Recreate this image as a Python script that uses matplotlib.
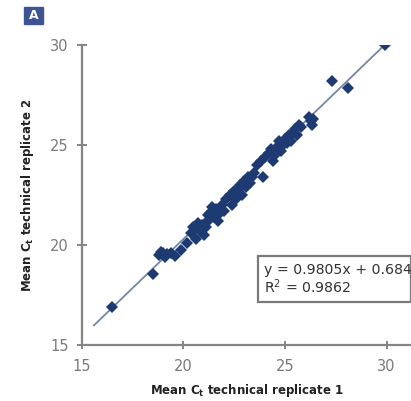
import matplotlib
matplotlib.use("Agg")
import matplotlib.pyplot as plt
from matplotlib.patches import Rectangle

# Mean Ct values of the two technical replicates
rep1 = [16.5, 18.5,
        18.8, 19.0, 19.2, 19.4, 19.6, 19.1, 18.9, 19.9, 20.2,
        20.4, 20.5, 20.6, 20.8, 20.9, 21.0, 21.2, 20.7, 21.1,
        21.3, 21.5, 21.6, 21.4, 21.8, 21.9, 21.7, 22.0, 22.1, 21.2,
        22.3, 22.4, 22.5, 22.6, 22.8, 22.7, 22.9, 23.0, 23.1, 23.2, 23.3, 23.4, 23.5,
        23.9,
        23.6, 23.8, 24.0, 24.2, 24.4, 24.3, 24.5, 24.6, 24.7, 24.8, 24.9, 25.0,
        25.1, 25.2, 25.3, 25.4, 25.5, 25.6, 25.7, 25.8,
        26.2, 26.3, 26.4, 26.35,
        27.3, 28.1, 29.9]
rep2 = [16.9, 18.55,
        19.5, 19.6, 19.55, 19.6, 19.45, 19.4, 19.65, 19.75, 20.1,
        20.6, 20.9, 20.3, 20.7, 21.0, 20.5, 21.2, 21.1, 20.9,
        21.6, 21.4, 21.8, 21.9, 21.6, 22.0, 21.2, 21.7, 22.3, 21.5,
        22.5, 22.0, 22.7, 22.3, 23.0, 22.8, 22.5, 23.2, 22.9, 23.4, 23.1, 23.4, 23.6,
        23.4,
        24.0, 24.2, 24.4, 24.6, 24.2, 24.8, 24.5, 24.9, 25.2, 24.7, 25.0, 25.3,
        25.1, 25.5, 25.2, 25.6, 25.8, 25.5, 26.0, 25.9,
        26.4, 26.2, 26.3, 26.0,
        28.2, 27.85, 30.0]

slope = 0.9805
intercept = 0.684
r_squared = 0.9862
fit_x = [15.6, 30.1]

x_ticks = [15, 20, 25, 30]
y_ticks = [15, 20, 25, 30]

W, H = 411, 401
fig = plt.figure(figsize=(W / 100, H / 100), dpi=100)
ax = fig.add_axes([81.7 / W, (H - 345) / H, 1 - 81.7 / W, 300 / H])

spine_col = "#858585"
text_col = "#7a7a7a"

ax.plot(fit_x, [slope * v + intercept for v in fit_x],
        color="#7585a8", lw=1.3, zorder=2)
ax.plot(rep1, rep2, linestyle="none", marker="D", markersize=6.5,
        color="#1d3a72", markeredgewidth=0, zorder=3)

ax.set_xlim(15, 31.2)
ax.set_ylim(15, 30)
ax.set_xticks(x_ticks)
ax.set_yticks(y_ticks)

for side in ("top", "right"):
    ax.spines[side].set_visible(False)
for side in ("left", "bottom"):
    ax.spines[side].set_color(spine_col)
    ax.spines[side].set_linewidth(1.6)

ax.tick_params(axis="both", direction="inout", length=7, width=1.4,
               color=spine_col, labelcolor=text_col, labelsize=10.5, pad=6)
ax.tick_params(axis="x", length=6, pad=7)

ax.set_xlabel(r"Mean C$_\mathregular{t}$ technical replicate 1",
              fontsize=8.5, fontweight="bold", color="#222222", labelpad=6)
ax.set_ylabel(r"Mean C$_\mathregular{t}$ technical replicate 2",
              fontsize=8.5, fontweight="bold", color="#222222", labelpad=10)

# Panel tag
fig.patches.append(Rectangle((24 / W, 1 - 24 / H), 19 / W, 17 / H,
                             transform=fig.transFigure, color="#3d5394",
                             zorder=5))
fig.text(33.5 / W, 1 - 15.5 / H, "A", color="white", fontsize=9,
         fontweight="bold", ha="center", va="center", zorder=6)

# Regression equation box
fig.patches.append(Rectangle((258 / W, 1 - 302 / H), (W - 258) / W, 46 / H,
                             transform=fig.transFigure, facecolor="white",
                             edgecolor="#7a7a7a", lw=1.6, zorder=5))
fig.text(264 / W, 1 - 270 / H,
         f"y = {slope}x + {intercept}", fontsize=10.2, color="#333333",
         ha="left", va="center", zorder=6)
fig.text(264 / W, 1 - 287 / H,
         f"R$^2$ = {r_squared}", fontsize=10.2, color="#333333",
         ha="left", va="center", zorder=6)

fig.savefig("out.png", dpi=100)
